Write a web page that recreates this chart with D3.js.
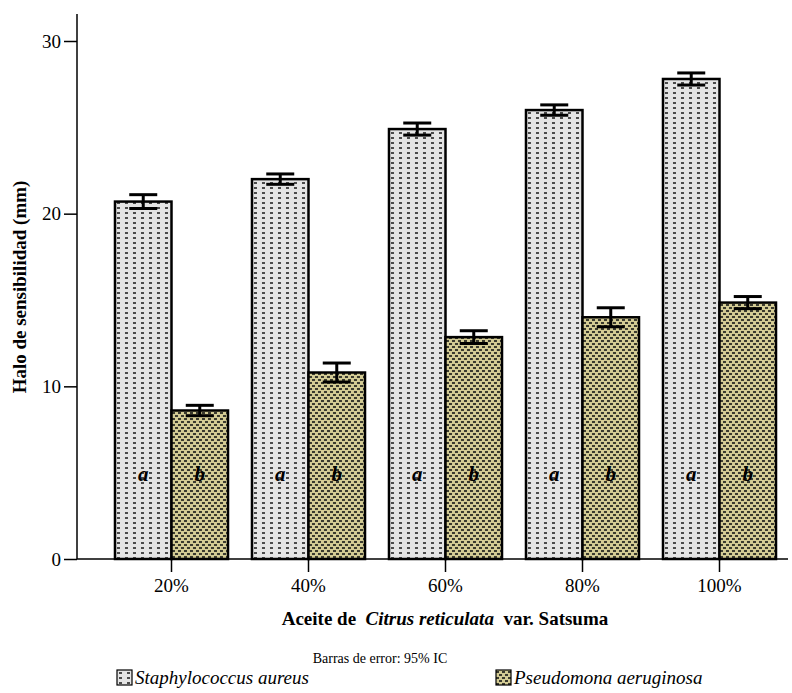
<!DOCTYPE html>
<html>
<head>
<meta charset="utf-8">
<script src="https://cdn.jsdelivr.net/npm/d3@7"></script>
<style>
  body { margin: 0; background: #fff; }
</style>
</head>
<body>
<script>
// chart data
const categories = ["20%", "40%", "60%", "80%", "100%"];
const seriesNames = ["Staphylococcus aureus", "Pseudomona aeruginosa"];
const staphValues = [20.7, 22.0, 24.9, 26.0, 27.8];
const staphErr = [0.4, 0.3, 0.35, 0.3, 0.35];
const pseudoValues = [8.6, 10.8, 12.85, 14.0, 14.85];
const pseudoErr = [0.3, 0.55, 0.37, 0.55, 0.35];
const barLetters = ["a", "b"];
const yTicks = [0, 10, 20, 30];

const W = 792, H = 693;
const FONT = "Liberation Serif, DejaVu Serif, serif";
const svg = d3.select("body").append("svg")
    .attr("width", W)
    .attr("height", H)
    .style("font-family", FONT);

const defs = svg.append("defs");

// dotted grey fill
const p1 = defs.append("pattern")
    .attr("id", "patStaph")
    .attr("patternUnits", "userSpaceOnUse")
    .attr("width", 8).attr("height", 5);
p1.append("rect").attr("width", 8).attr("height", 5).attr("fill", "#e4e4e4");
p1.append("rect").attr("x", 2).attr("y", 2).attr("width", 3).attr("height", 2).attr("fill", "#4a4a4a");

// dense khaki fill
const p2 = defs.append("pattern")
    .attr("id", "patPseudo")
    .attr("patternUnits", "userSpaceOnUse")
    .attr("width", 6).attr("height", 6);
p2.append("rect").attr("width", 6).attr("height", 6).attr("fill", "#d3cb94");
p2.append("rect").attr("x", 0).attr("y", 1).attr("width", 3).attr("height", 2).attr("fill", "#3a3a2e");
p2.append("rect").attr("x", 3).attr("y", 4).attr("width", 3).attr("height", 2).attr("fill", "#3a3a2e");

const fills = ["url(#patStaph)", "url(#patPseudo)"];

const x0 = d3.scaleBand()
    .domain(categories)
    .range([103, 788])
    .paddingInner(0.175)
    .paddingOuter(0.0875);

const x1 = d3.scaleBand()
    .domain(seriesNames)
    .range([0, x0.bandwidth()]);

const y = d3.scaleLinear()
    .domain([0, 30])
    .range([559, 41]);

const rows = categories.map((c, i) => ({
    cat: c,
    vals: [
        { s: seriesNames[0], v: staphValues[i], e: staphErr[i], k: 0 },
        { s: seriesNames[1], v: pseudoValues[i], e: pseudoErr[i], k: 1 }
    ]
}));

// bars
const grp = svg.append("g")
    .selectAll("g")
    .data(rows)
    .join("g")
    .attr("transform", d => `translate(${x0(d.cat)},0)`);

grp.selectAll("rect")
    .data(d => d.vals)
    .join("rect")
    .attr("x", d => x1(d.s))
    .attr("y", d => y(d.v))
    .attr("width", x1.bandwidth())
    .attr("height", d => y(0) - y(d.v))
    .attr("fill", d => fills[d.k])
    .attr("stroke", "#000")
    .attr("stroke-width", 2.5);

// letters inside bars
grp.selectAll("text.lab")
    .data(d => d.vals)
    .join("text")
    .attr("class", "lab")
    .attr("x", d => x1(d.s) + x1.bandwidth() / 2)
    .attr("y", y(4.5))
    .attr("text-anchor", "middle")
    .style("font-family", FONT)
    .attr("font-size", 21)
    .attr("font-weight", "bold")
    .attr("font-style", "italic")
    .text(d => barLetters[d.k]);

// error bars
const capW = 14;
const eb = grp.selectAll("g.err")
    .data(d => d.vals)
    .join("g")
    .attr("class", "err")
    .attr("stroke", "#000")
    .attr("stroke-width", 3);
eb.append("line")
    .attr("x1", d => x1(d.s) + x1.bandwidth() / 2)
    .attr("x2", d => x1(d.s) + x1.bandwidth() / 2)
    .attr("y1", d => y(d.v + d.e))
    .attr("y2", d => y(d.v - d.e));
eb.append("line")
    .attr("x1", d => x1(d.s) + x1.bandwidth() / 2 - capW)
    .attr("x2", d => x1(d.s) + x1.bandwidth() / 2 + capW)
    .attr("y1", d => y(d.v + d.e))
    .attr("y2", d => y(d.v + d.e));
eb.append("line")
    .attr("x1", d => x1(d.s) + x1.bandwidth() / 2 - capW)
    .attr("x2", d => x1(d.s) + x1.bandwidth() / 2 + capW)
    .attr("y1", d => y(d.v - d.e))
    .attr("y2", d => y(d.v - d.e));

// y axis
const yAxisG = svg.append("g")
    .attr("transform", "translate(77,0)")
    .call(d3.axisLeft(y).tickValues(yTicks).tickSize(13).tickPadding(3).tickFormat(d3.format("d")));
yAxisG.attr("font-family", null);
yAxisG.select(".domain").remove();
yAxisG.append("line")
    .attr("x1", 0).attr("x2", 0)
    .attr("y1", 14).attr("y2", 559)
    .attr("stroke", "#000").attr("stroke-width", 1.5);
yAxisG.selectAll(".tick line").attr("stroke-width", 1.5);
yAxisG.selectAll(".tick text")
    .style("font-family", FONT)
    .attr("font-size", 19)
    .attr("fill", "#000");

// x axis
svg.append("line")
    .attr("x1", 77).attr("x2", 788)
    .attr("y1", 559).attr("y2", 559)
    .attr("stroke", "#000").attr("stroke-width", 1.5);
const xAxisG = svg.append("g")
    .attr("transform", "translate(0,559)")
    .call(d3.axisBottom(x0).tickSize(13).tickPadding(7));
xAxisG.attr("font-family", null);
xAxisG.select(".domain").remove();
xAxisG.selectAll(".tick line").attr("stroke-width", 1.5);
xAxisG.selectAll(".tick text")
    .style("font-family", FONT)
    .attr("font-size", 19)
    .attr("fill", "#000");

// axis titles
svg.append("text")
    .attr("transform", "translate(26,287) rotate(-90)")
    .attr("text-anchor", "middle")
    .style("font-family", FONT)
    .attr("font-size", 19)
    .attr("font-weight", "bold")
    .text("Halo de sensibilidad (mm)");

const xt = svg.append("text")
    .attr("x", 445)
    .attr("y", 625)
    .attr("text-anchor", "middle")
    .style("font-family", FONT)
    .attr("font-size", 19)
    .attr("font-weight", "bold")
    .attr("xml:space", "preserve");
xt.append("tspan").text("Aceite de  ");
xt.append("tspan").attr("font-style", "italic").text("Citrus reticulata");
xt.append("tspan").text("  var. Satsuma");

svg.append("text")
    .attr("x", 380)
    .attr("y", 663)
    .attr("text-anchor", "middle")
    .style("font-family", FONT)
    .attr("font-size", 14)
    .text("Barras de error: 95% IC");

// legend
const legX = [117, 496];
const leg = svg.append("g")
    .selectAll("g")
    .data(seriesNames)
    .join("g")
    .attr("transform", (d, i) => `translate(${legX[i]},670)`);
leg.append("rect")
    .attr("width", 15).attr("height", 15)
    .attr("fill", (d, i) => fills[i])
    .attr("stroke", "#000").attr("stroke-width", 1.2);
leg.append("text")
    .attr("x", 18)
    .attr("y", 14)
    .style("font-family", FONT)
    .attr("font-size", 19)
    .attr("font-style", "italic")
    .text(d => d);
</script>
</body>
</html>
